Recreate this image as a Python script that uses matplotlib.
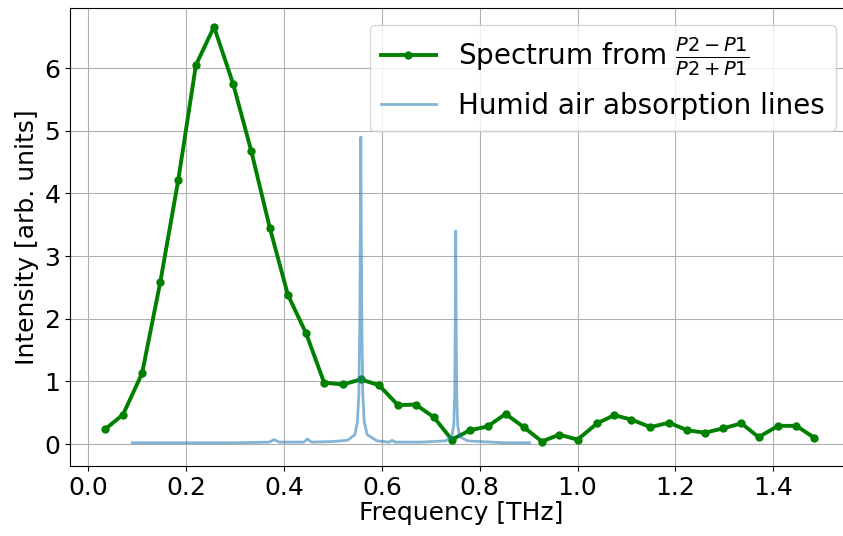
import matplotlib
matplotlib.use("Agg")
import matplotlib.pyplot as plt

# measured spectrum (green)
freq = [0.035, 0.071, 0.110, 0.147, 0.184, 0.220, 0.257, 0.296, 0.333, 0.371,
        0.408, 0.445, 0.482, 0.520, 0.557, 0.594, 0.633, 0.669, 0.706, 0.743,
        0.780, 0.816, 0.853, 0.890, 0.927, 0.963, 1.000, 1.040, 1.075, 1.110,
        1.149, 1.187, 1.224, 1.260, 1.298, 1.335, 1.370, 1.410, 1.447, 1.484]
intensity = [0.24, 0.47, 1.13, 2.58, 4.22, 6.05, 6.66, 5.75, 4.68, 3.45,
             2.38, 1.77, 0.98, 0.95, 1.03, 0.94, 0.62, 0.63, 0.43, 0.07,
             0.22, 0.28, 0.48, 0.27, 0.04, 0.15, 0.07, 0.33, 0.46, 0.39,
             0.27, 0.34, 0.22, 0.18, 0.25, 0.33, 0.11, 0.29, 0.29, 0.10]

# humid air absorption lines (blue)
humid_freq = [0.090, 0.200, 0.300, 0.370, 0.380, 0.390, 0.440, 0.448, 0.456,
              0.500, 0.530, 0.545, 0.550, 0.553, 0.555, 0.556, 0.557, 0.558,
              0.559, 0.561, 0.564, 0.570, 0.590, 0.615, 0.621, 0.627, 0.680,
              0.730, 0.743, 0.747, 0.749, 0.750, 0.751, 0.752, 0.753, 0.755,
              0.759, 0.775, 0.850, 0.902]
humid_vals = [0.02, 0.02, 0.02, 0.03, 0.07, 0.03, 0.03, 0.08, 0.03,
              0.04, 0.06, 0.15, 0.35, 0.80, 2.00, 3.40, 4.90, 3.40,
              2.00, 0.80, 0.35, 0.15, 0.05, 0.03, 0.06, 0.03, 0.03,
              0.05, 0.12, 0.30, 0.80, 1.90, 3.40, 1.90, 0.80, 0.30,
              0.12, 0.05, 0.02, 0.02]

fig = plt.figure(figsize=(8.43, 5.36), dpi=100)
ax = fig.add_axes([70 / 843, 1 - 466 / 536, (853 - 70) / 843, (466 - 8) / 536])

ax.plot(freq, intensity, '.-', color='green', lw=2.8, ms=10,
        label=r'Spectrum from $\frac{P2-P1}{P2+P1}$')
ax.plot(humid_freq, humid_vals, color='C0', lw=2, alpha=0.55,
        label='Humid air absorption lines')

ax.set_xlim(-0.0374, 1.563)
ax.set_ylim(-0.351, 6.96)
ax.set_xticks([0.0, 0.2, 0.4, 0.6, 0.8, 1.0, 1.2, 1.4])
ax.grid(True)
ax.tick_params(labelsize=18)
ax.set_xlabel('Frequency [THz]', fontsize=18, labelpad=1)
ax.set_ylabel('Intensity [arb. units]', fontsize=18, labelpad=4)
ax.legend(loc='upper right', fontsize=20, borderaxespad=0.6)

fig.savefig('out.png', dpi=100)
